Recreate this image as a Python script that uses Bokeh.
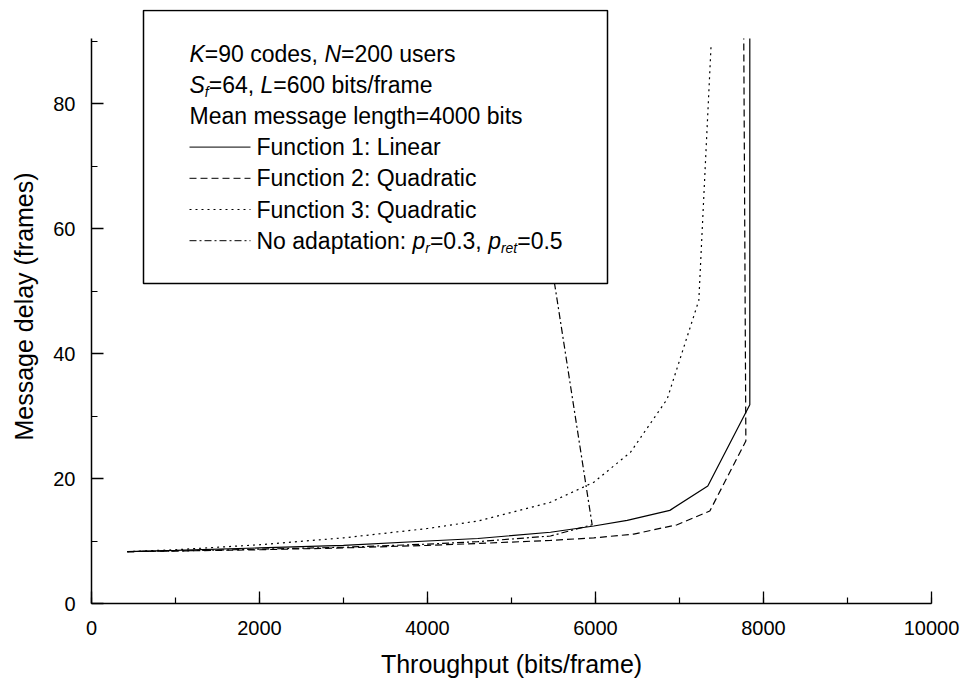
from bokeh.plotting import figure
from bokeh.models import (Range1d, SingleIntervalTicker, BoxAnnotation, Label, Arrow)
from bokeh.embed import file_html
from bokeh.resources import INLINE

# ---------------- data ----------------
f1_x = [425, 1000, 2000, 3000, 4000, 4600, 5464, 5980, 6377, 6885, 7337, 7837, 7837]
f1_y = [8.3, 8.5, 8.9, 9.3, 10.0, 10.4, 11.4, 12.4, 13.3, 14.9, 18.8, 31.8, 90.4]

f2_x = [425, 1000, 2000, 3000, 4000, 4600, 5464, 5980, 6456, 6972, 7361, 7790, 7765]
f2_y = [8.3, 8.4, 8.6, 8.9, 9.3, 9.6, 10.1, 10.5, 11.1, 12.6, 14.8, 26.0, 90.4]

f3_x = [425, 1000, 2000, 3000, 4000, 4600, 5464, 5980, 6417, 6853, 7230, 7377]
f3_y = [8.3, 8.6, 9.4, 10.5, 12.0, 13.2, 16.2, 19.4, 24.2, 32.7, 48.5, 89.6]

na_x = [425, 1000, 2000, 3000, 4000, 4600, 5464, 5960, 5544, 5081]
na_y = [8.3, 8.4, 8.7, 9.0, 9.5, 9.9, 10.8, 12.6, 48.5, 88.0]

x_ticks_interval = 2000
y_ticks_interval = 20
y_axis_top = 90.4

header_lines = [
    [("K", "italic", 0), ("=90 codes, ", "normal", 0), ("N", "italic", 0), ("=200 users", "normal", 0)],
    [("S", "italic", 0), ("f", "italic", 1), ("=64, ", "normal", 0), ("L", "italic", 0), ("=600 bits/frame", "normal", 0)],
    [("Mean message length=4000 bits", "normal", 0)],
]
item_lines = [
    [("Function 1: Linear", "normal", 0)],
    [("Function 2: Quadratic", "normal", 0)],
    [("Function 3: Quadratic", "normal", 0)],
    [("No adaptation: ", "normal", 0), ("p", "italic", 0), ("r", "italic", 1), ("=0.3, ", "normal", 0),
     ("p", "italic", 0), ("ret", "italic", 1), ("=0.5", "normal", 0)],
]
item_dashes = ["solid", "7 4", "2 4", "7 3 2 3"]

# ---------------- figure ----------------
FONT = "Liberation Sans"
FRAME_TOP, FRAME_BOTTOM, FRAME_LEFT = 9, 603, 91
px_per_unit = 6.25
p = figure(width=961, height=684, x_range=Range1d(0, 10000),
           y_range=Range1d(0, (FRAME_BOTTOM - FRAME_TOP) / px_per_unit),
           output_backend="svg", toolbar_location=None,
           min_border_left=FRAME_LEFT, min_border_right=30, min_border_top=FRAME_TOP,
           min_border_bottom=684 - FRAME_BOTTOM)
p.xgrid.visible = False
p.ygrid.visible = False
p.outline_line_color = None
p.background_fill_color = "white"

p.xaxis.ticker = SingleIntervalTicker(interval=x_ticks_interval, num_minor_ticks=2)
p.yaxis.ticker = SingleIntervalTicker(interval=y_ticks_interval, num_minor_ticks=2)
p.yaxis.bounds = (0, y_axis_top)
for ax in (p.xaxis[0], p.yaxis[0]):
    ax.major_tick_in = 12
    ax.major_tick_out = 0
    ax.minor_tick_in = 6
    ax.minor_tick_out = 0
    ax.axis_line_width = 1.5
    ax.major_tick_line_width = 1.3
    ax.minor_tick_line_width = 1.2
    ax.axis_line_color = "black"
    ax.major_tick_line_color = "black"
    ax.minor_tick_line_color = "black"
    ax.major_label_text_font = FONT
    ax.major_label_text_font_size = "20px"
    ax.major_label_text_color = "black"
    ax.axis_label_text_font = FONT
    ax.axis_label_text_font_size = "25px"
    ax.axis_label_text_font_style = "normal"
    ax.axis_label_text_color = "black"
p.xaxis.axis_label = "Throughput (bits/frame)"
p.yaxis.axis_label = "Message delay (frames)"
p.xaxis.major_label_standoff = 17
p.xaxis.axis_label_standoff = 12
p.yaxis.major_label_standoff = 16
p.yaxis.axis_label_standoff = 12

p.line(f1_x, f1_y, line_color="black", line_width=1.2)
p.line(f2_x, f2_y, line_color="black", line_width=1.2, line_dash=item_dashes[1])
p.line(f3_x, f3_y, line_color="black", line_width=1.2, line_dash=item_dashes[2])
p.line(na_x, na_y, line_color="black", line_width=1.2, line_dash=item_dashes[3])

# ---------------- legend box (screen px relative to frame) ----------------
def sx(cx):
    return cx - FRAME_LEFT
def sy(cy):
    return FRAME_BOTTOM - cy

box = BoxAnnotation(left=sx(143), right=sx(607), top=sy(10), bottom=sy(283),
                    left_units="screen", right_units="screen", top_units="screen", bottom_units="screen",
                    fill_color="white", fill_alpha=1.0, line_color="black", line_width=1.5,
                    line_alpha=1.0)
p.add_layout(box)

W = {' ': 278, ',': 278, '.': 278, '/': 278, ':': 278, '=': 584, 'K': 667, 'N': 722, 'S': 667,
     'L': 556, 'M': 833, 'F': 611, 'Q': 778, 'a': 556, 'b': 556, 'c': 500, 'd': 556, 'e': 556,
     'f': 278, 'g': 556, 'h': 556, 'i': 222, 'l': 222, 'm': 833, 'n': 556, 'o': 556, 'p': 556,
     'q': 556, 'r': 333, 's': 500, 't': 278, 'u': 556, 'y': 500}
def width(s, fs):
    return sum(W.get(ch, 556) for ch in s) / 1000.0 * fs

FS = 23
SUB = 14
def draw_line(parts, x0, cy):
    x = x0
    for txt, style, sub in parts:
        fs = SUB if sub else FS
        yy = cy + (7 if sub else 0)
        p.add_layout(Label(x=sx(x), y=sy(yy), x_units="screen", y_units="screen", text=txt,
                           text_font=FONT, text_font_size=f"{fs}px", text_font_style=style,
                           text_color="black", text_baseline="middle", text_align="left"))
        x += width(txt, fs)

row_step = 31.2
header_y = [53 + i * row_step for i in range(3)]
for parts, cy in zip(header_lines, header_y):
    draw_line(parts, 189, cy)

item_y = [53 + (i + 3) * row_step for i in range(4)]
for parts, cy, dash in zip(item_lines, item_y, item_dashes):
    p.add_layout(Arrow(start=None, end=None, x_start=sx(189), y_start=sy(cy), x_end=sx(250), y_end=sy(cy),
                       start_units="screen", end_units="screen", line_color="black", line_width=1.0,
                       line_dash=dash))
    draw_line(parts, 256, cy)

open("out.html", "w").write(file_html(p, INLINE))
